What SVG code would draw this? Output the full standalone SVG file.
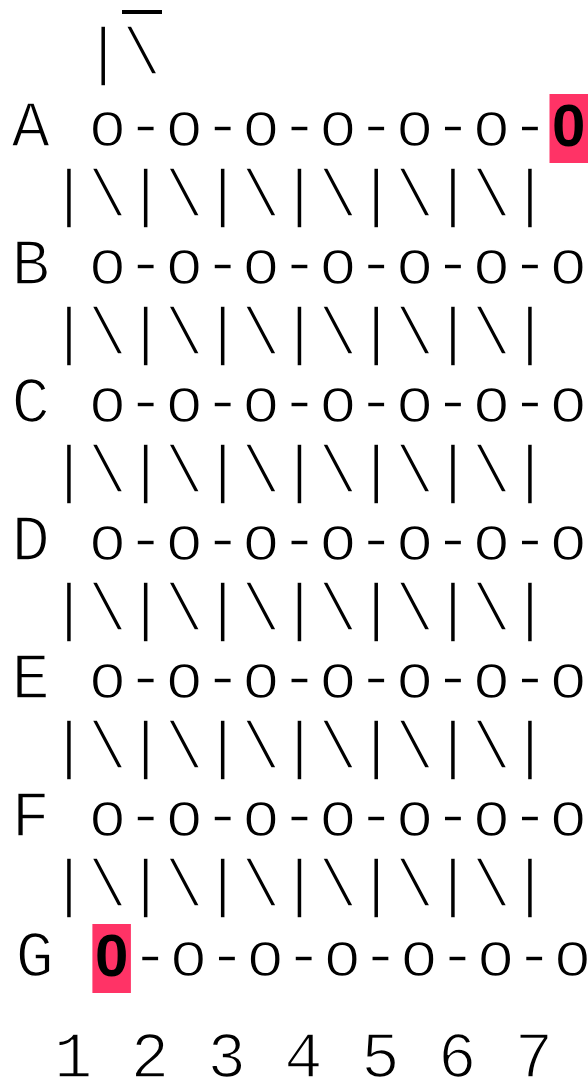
<svg xmlns="http://www.w3.org/2000/svg" width="588" height="1081" viewBox="0 0 588 1081">
<style>
.t{font-family:"Liberation Mono","DejaVu Sans Mono",monospace;font-size:64px;fill:#000;stroke:#fff;stroke-width:1.6px;white-space:pre}
.b{font-family:"Liberation Sans","Arial",sans-serif;font-size:60px;font-weight:bold;fill:#000;text-anchor:middle}
.hl{fill:#ff3366}
</style>
<rect width="588" height="1081" fill="#fff"/>
<g id="top">
<rect x="122" y="10" width="40" height="4" fill="#000"/>
<text class="t" x="84" y="73" xml:space="preserve">|\</text>
</g>
<g id="rowA">
<text class="t" x="11.4" y="145.7" xml:space="preserve">A o-o-o-o-o-o-</text>
<rect class="hl" x="549.5" y="94" width="38.5" height="69"/>
<text class="b" x="568.8" y="146">0</text>
</g>
<g id="connectors">
<text class="t" x="11.4" y="214.7" xml:space="preserve"> |\|\|\|\|\|\|</text>
<text class="t" x="11.4" y="352.7" xml:space="preserve"> |\|\|\|\|\|\|</text>
<text class="t" x="11.4" y="490.7" xml:space="preserve"> |\|\|\|\|\|\|</text>
<text class="t" x="11.4" y="628.7" xml:space="preserve"> |\|\|\|\|\|\|</text>
<text class="t" x="11.4" y="766.7" xml:space="preserve"> |\|\|\|\|\|\|</text>
<text class="t" x="11.4" y="904.7" xml:space="preserve"> |\|\|\|\|\|\|</text>
</g>
<g id="rowB"><text class="t" x="11.4" y="283.7" xml:space="preserve">B o-o-o-o-o-o-o</text></g>
<g id="rowC"><text class="t" x="11.4" y="421.7" xml:space="preserve">C o-o-o-o-o-o-o</text></g>
<g id="rowD"><text class="t" x="11.4" y="559.7" xml:space="preserve">D o-o-o-o-o-o-o</text></g>
<g id="rowE"><text class="t" x="11.4" y="697.7" xml:space="preserve">E o-o-o-o-o-o-o</text></g>
<g id="rowF"><text class="t" x="11.4" y="835.7" xml:space="preserve">F o-o-o-o-o-o-o</text></g>
<g id="rowG">
<text class="t" x="15.5" y="975.5" xml:space="preserve">G</text>
<rect class="hl" x="92.4" y="924" width="38.5" height="69"/>
<text class="b" x="111.7" y="976">0</text>
<text class="t" x="130.9" y="975.5" xml:space="preserve">-o-o-o-o-o-o</text>
</g>
<g id="columns">
<text class="t" x="15.5" y="1077" xml:space="preserve"> 1 2 3 4 5 6 7</text>
</g>
</svg>
